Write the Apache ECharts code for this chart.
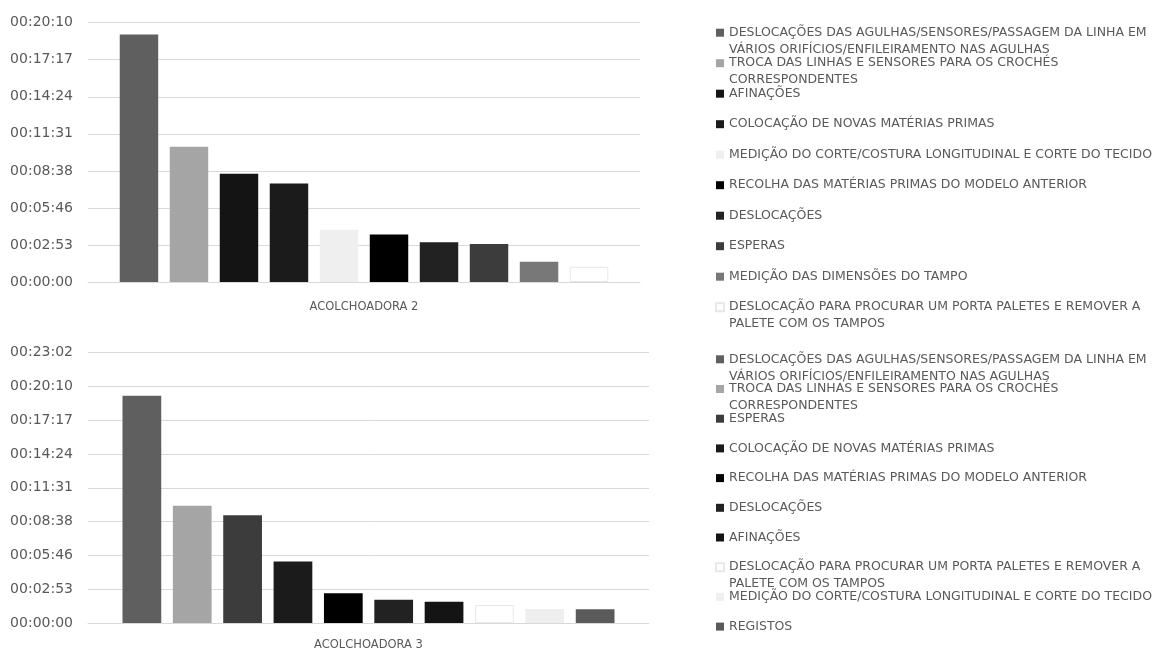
<!DOCTYPE html>
<html>
<head>
<meta charset="utf-8">
<script src="https://cdn.jsdelivr.net/npm/echarts@6/dist/echarts.min.js"></script>
<style>
  html, body { margin: 0; padding: 0; background: #ffffff; }
  #chart { width: 1169px; height: 655px; }
</style>
</head>
<body>
<div id="chart"></div>
<script>
// ---- Data: time spent per activity during a model change, two quilting machines ----
const categoriesTop = ['ACOLCHOADORA 2'];
const categoriesBottom = ['ACOLCHOADORA 3'];

const activitiesTop = [
  'DESLOCAÇÕES DAS AGULHAS/SENSORES/PASSAGEM DA LINHA EM VÁRIOS ORIFÍCIOS/ENFILEIRAMENTO NAS AGULHAS',
  'TROCA DAS LINHAS E SENSORES PARA OS CROCHÉS CORRESPONDENTES',
  'AFINAÇÕES',
  'COLOCAÇÃO DE NOVAS MATÉRIAS PRIMAS',
  'MEDIÇÃO DO CORTE/COSTURA LONGITUDINAL E CORTE DO TECIDO',
  'RECOLHA DAS MATÉRIAS PRIMAS DO MODELO ANTERIOR',
  'DESLOCAÇÕES',
  'ESPERAS',
  'MEDIÇÃO DAS DIMENSÕES DO TAMPO',
  'DESLOCAÇÃO PARA PROCURAR UM PORTA PALETES E REMOVER A PALETE COM OS TAMPOS'
];
const durationsTop = [
  '00:19:14', '00:10:31', '00:08:25', '00:07:40', '00:04:04',
  '00:03:42', '00:03:05', '00:02:57', '00:01:35', '00:01:11'
];

const activitiesBottom = [
  'DESLOCAÇÕES DAS AGULHAS/SENSORES/PASSAGEM DA LINHA EM VÁRIOS ORIFÍCIOS/ENFILEIRAMENTO NAS AGULHAS',
  'TROCA DAS LINHAS E SENSORES PARA OS CROCHÉS CORRESPONDENTES',
  'ESPERAS',
  'COLOCAÇÃO DE NOVAS MATÉRIAS PRIMAS',
  'RECOLHA DAS MATÉRIAS PRIMAS DO MODELO ANTERIOR',
  'DESLOCAÇÕES',
  'AFINAÇÕES',
  'DESLOCAÇÃO PARA PROCURAR UM PORTA PALETES E REMOVER A PALETE COM OS TAMPOS',
  'MEDIÇÃO DO CORTE/COSTURA LONGITUDINAL E CORTE DO TECIDO',
  'REGISTOS'
];
const durationsBottom = [
  '00:19:22', '00:10:00', '00:09:11', '00:05:15', '00:02:32',
  '00:01:59', '00:01:49', '00:01:32', '00:01:12', '00:01:10'
];

const yTicksTop = ['00:00:00', '00:02:53', '00:05:46', '00:08:38', '00:11:31', '00:14:24', '00:17:17', '00:20:10'];
const yTicksBottom = ['00:00:00', '00:02:53', '00:05:46', '00:08:38', '00:11:31', '00:14:24', '00:17:17', '00:20:10', '00:23:02'];

// ---- Styling ----
const activityColors = {
  'DESLOCAÇÕES DAS AGULHAS/SENSORES/PASSAGEM DA LINHA EM VÁRIOS ORIFÍCIOS/ENFILEIRAMENTO NAS AGULHAS': '#5f5f5f',
  'TROCA DAS LINHAS E SENSORES PARA OS CROCHÉS CORRESPONDENTES': '#a5a5a5',
  'AFINAÇÕES': '#141414',
  'COLOCAÇÃO DE NOVAS MATÉRIAS PRIMAS': '#1b1b1b',
  'MEDIÇÃO DO CORTE/COSTURA LONGITUDINAL E CORTE DO TECIDO': '#efefef',
  'RECOLHA DAS MATÉRIAS PRIMAS DO MODELO ANTERIOR': '#000000',
  'DESLOCAÇÕES': '#222222',
  'ESPERAS': '#3c3c3c',
  'MEDIÇÃO DAS DIMENSÕES DO TAMPO': '#787878',
  'DESLOCAÇÃO PARA PROCURAR UM PORTA PALETES E REMOVER A PALETE COM OS TAMPOS': '#ffffff',
  'REGISTOS': '#5a5a5a'
};

const FONT = '"DejaVu Sans", "Noto Sans", sans-serif';
const TEXT = '#595959';
const GRID_LINE = '#d9d9d9';
const LEGEND_SIZE = 12.5;
const LEGEND_LINE = 17;

// Excel major unit 0.002 day, expressed in seconds
const STEP = 0.002 * 86400;

function toSeconds(hms) {
  const [h, m, s] = hms.split(':').map(Number);
  return h * 3600 + m * 60 + s;
}

// Word-wrap legend entries to the width of the longest single-line entry
const measureCtx = document.createElement('canvas').getContext('2d');
measureCtx.font = LEGEND_SIZE + 'px ' + FONT;
const wrapWidth = measureCtx.measureText('MEDIÇÃO DO CORTE/COSTURA LONGITUDINAL E CORTE DO TECIDO').width + 4;
function wrap(text) {
  const words = text.split(' ');
  const lines = [];
  let cur = '';
  words.forEach(w => {
    const next = cur ? cur + ' ' + w : w;
    if (cur && measureCtx.measureText(next).width > wrapWidth) {
      lines.push(cur);
      cur = w;
    } else {
      cur = next;
    }
  });
  if (cur) lines.push(cur);
  return lines;
}
// Every entry gets three lines (blank, first, second) so the first line sits on the swatch
// and overflowing second lines run under it at a fixed row pitch.
function legendLabel(name) {
  const lines = wrap(name);
  return '\n' + lines[0] + '\n' + (lines.slice(1).join(' ') || '');
}

function makeSeries(names, values, axisIndex) {
  return names.map((name, i) => {
    const color = activityColors[name];
    return {
      type: 'bar',
      name: name,
      xAxisIndex: axisIndex,
      yAxisIndex: axisIndex,
      data: [toSeconds(values[i])],
      barGap: '30%',
      barCategoryGap: axisIndex === 0 ? '11.5%' : '12.3%',
      itemStyle: {
        color: color,
        borderColor: color === '#ffffff' ? '#e8e8e8' : color,
        borderWidth: color === '#ffffff' ? 1 : 0
      },
      emphasis: { disabled: true },
      animation: false
    };
  });
}

function makeYAxis(ticks, gridIndex) {
  return {
    type: 'value',
    gridIndex: gridIndex,
    min: 0,
    max: STEP * (ticks.length - 1),
    interval: STEP,
    axisLine: { show: false },
    axisTick: { show: false },
    splitLine: { lineStyle: { color: GRID_LINE, width: 1 } },
    axisLabel: {
      formatter: (v, i) => ticks[i],
      color: TEXT,
      fontFamily: FONT,
      fontSize: 14,
      margin: 15
    }
  };
}

function makeXAxis(cats, gridIndex, margin) {
  return {
    type: 'category',
    gridIndex: gridIndex,
    data: cats,
    axisLine: { lineStyle: { color: GRID_LINE, width: 1 } },
    axisTick: { show: false },
    axisLabel: { color: TEXT, fontFamily: FONT, fontSize: 11.5, margin: margin }
  };
}

function makeLegend(names, top, gap) {
  return {
    orient: 'vertical',
    left: 715,
    top: top,
    padding: 0,
    itemGap: gap,
    itemWidth: 8,
    itemHeight: 8,
    icon: 'rect',
    selectedMode: false,
    data: names,
    formatter: legendLabel,
    textStyle: { color: TEXT, fontFamily: FONT, fontSize: LEGEND_SIZE, lineHeight: LEGEND_LINE }
  };
}

const chart = echarts.init(document.getElementById('chart'), null, { renderer: 'canvas' });
chart.setOption({
  backgroundColor: '#ffffff',
  animation: false,
  grid: [
    { left: 88, top: 22.7, width: 552, height: 259.3 },
    { left: 88, top: 352.7, width: 561, height: 270.3 }
  ],
  xAxis: [makeXAxis(categoriesTop, 0, 19), makeXAxis(categoriesBottom, 1, 16)],
  yAxis: [makeYAxis(yTicksTop, 0), makeYAxis(yTicksBottom, 1)],
  legend: [
    makeLegend(activitiesTop, 32.7 - 1.5 * LEGEND_LINE, 30.5 - 3 * LEGEND_LINE),
    makeLegend(activitiesBottom, 359.3 - 1.5 * LEGEND_LINE, 29.7 - 3 * LEGEND_LINE)
  ],
  series: makeSeries(activitiesTop, durationsTop, 0).concat(makeSeries(activitiesBottom, durationsBottom, 1))
});
</script>
</body>
</html>
